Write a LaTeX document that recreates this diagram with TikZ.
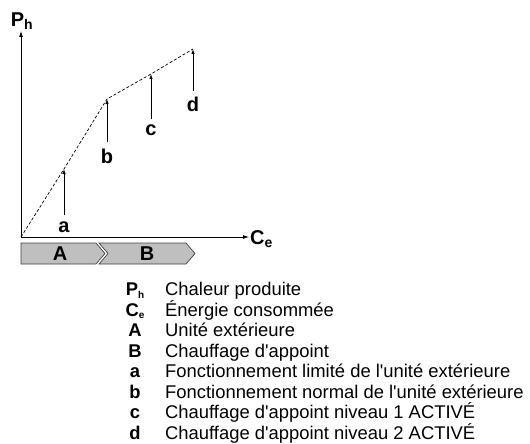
\documentclass[tikz,border=0pt]{standalone}
\usepackage{fontspec}
\setmainfont{Liberation Sans}
\usetikzlibrary{arrows.meta, positioning, calc}

\newcommand{\lowsub}[1]{\raisebox{-2.5pt}{\fontsize{10}{10}\selectfont #1}}

\begin{document}
\begin{tikzpicture}[x=1pt, y=-1pt,
  axis/.style={line width=0.8pt, -{Latex[length=6pt, width=4pt]}},
  marker/.style={line width=0.8pt, -{Latex[length=5pt, width=3.5pt]}},
  curve/.style={line width=0.7pt, dash pattern=on 3pt off 2pt},
  letter/.style={font=\fontsize{20}{22}\selectfont\bfseries, inner sep=0pt},
  band/.style={draw=black!75, fill=black!25, line width=0.7pt},
  keyname/.style={font=\fontsize{18.4}{20}\selectfont\bfseries, inner sep=0pt, anchor=base},
  keytext/.style={font=\fontsize{18.4}{20}\selectfont, inner sep=0pt, anchor=base west}]
\useasboundingbox (0,0) rectangle (530,444);
% axes
\coordinate (o) at (21,237);
\coordinate (ytop) at (21,31);
\coordinate (xend) at (249,237);
\draw[axis] (o) -- (ytop);
\draw[axis] (o) -- (xend);
\node[letter] (ph) at (22,21) {P\textsubscript{h}};
\node[letter, anchor=west] (ce) at (250,239) {C\textsubscript{e}};
% operating points
\coordinate (pa) at (64,169);
\coordinate (pb) at (107,99);
\coordinate (pc) at (151,74);
\coordinate (pd) at (193,49);
\draw[curve] (o) -- (pa) -- (pb) -- (pc) -- (pd);
\node[letter] (la) at (64,227) {a};
\node[letter] (lb) at (107,156) {b};
\node[letter] (lc) at (151,130) {c};
\node[letter] (ld) at (193,104) {d};
\draw[marker] (la.north) ++(0,-6) -- (pa);
\draw[marker] (lb.north) ++(0,-6) -- (pb);
\draw[marker] (lc.north) ++(0,-5) -- (pc);
\draw[marker] (ld.north) ++(0,-5) -- (pd);
% stages
\draw[band] (21,243) -- (96,243) -- (105,253.5) -- (96,264) -- (21,264) -- cycle;
\draw[band] (99,243) -- (186,243) -- (195,253.5) -- (186,264) -- (99,264) -- (108,253.5) -- cycle;
\node[letter] (sa) at (60,254) {A};
\node[letter] (sb) at (147,254) {B};
% legend
\foreach \k/\t [count=\n] in {%
  {P\lowsub{h}}/{Chaleur produite},
  {C\lowsub{e}}/{Énergie consommée},
  A/{Unité extérieure},
  B/{Chauffage d\textquotesingle appoint},
  a/{Fonctionnement limité de l\textquotesingle unité extérieure},
  b/{Fonctionnement normal de l\textquotesingle unité extérieure},
  c/{Chauffage d\textquotesingle appoint niveau 1 ACTIVÉ},
  d/{Chauffage d\textquotesingle appoint niveau 2 ACTIVÉ}} {
  \node[keyname] (key\n) at (135,{295.5+20.5*(\n-1)}) {\k};
  \node[keytext] (txt\n) at (165,{295.5+20.5*(\n-1)}) {\t};
}
\end{tikzpicture}
\end{document}
